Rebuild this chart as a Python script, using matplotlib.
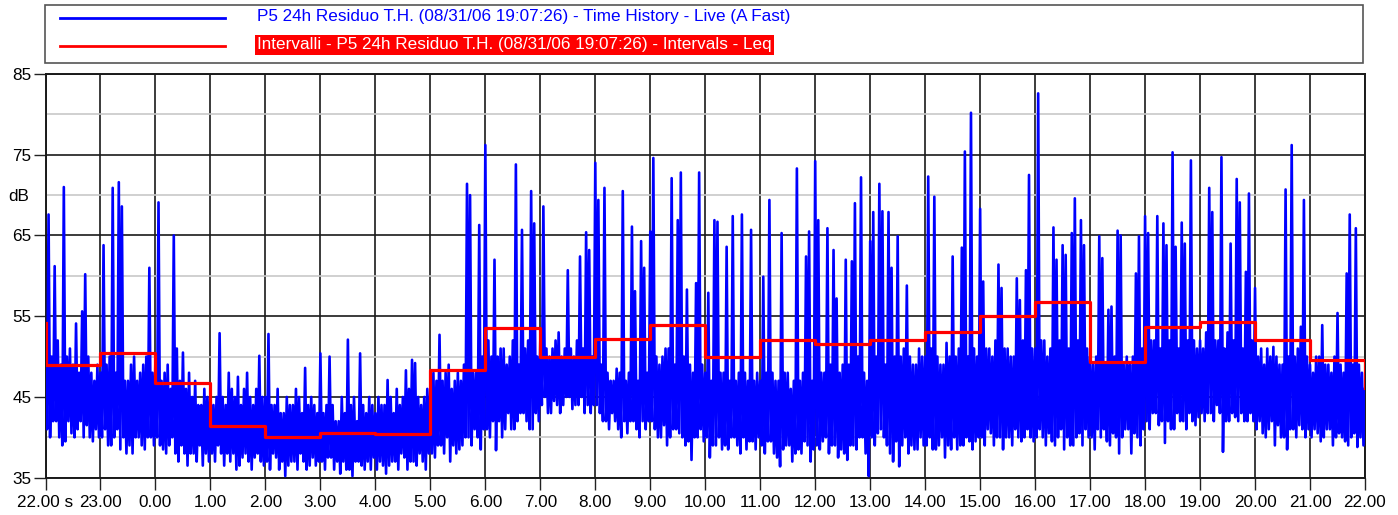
import matplotlib
matplotlib.use("Agg")
import matplotlib.pyplot as plt
from matplotlib.lines import Line2D
from matplotlib.patches import Rectangle
from matplotlib import font_manager

# fonts: narrow Arial-like if available
names = {f.name for f in font_manager.fontManager.ttflist}
if "Liberation Sans Narrow" in names:
    plt.rcParams['font.family'] = ['Liberation Sans Narrow', 'DejaVu Sans']
    fs = 13.4
else:
    plt.rcParams['font.family'] = ['Liberation Sans', 'DejaVu Sans']
    fs = 12.3

# x tick labels (hours 22.00 -> 22.00)
hour_labels = ["22.00 s", "23.00", "0.00", "1.00", "2.00", "3.00", "4.00", "5.00",
               "6.00", "7.00", "8.00", "9.00", "10.00", "11.00", "12.00", "13.00",
               "14.00", "15.00", "16.00", "17.00", "18.00", "19.00", "20.00",
               "21.00", "22.00"]

# hourly Leq intervals (dB)
interval_leq = [48.9, 50.4, 46.7, 41.4, 40.1, 40.5, 40.4, 48.3, 53.5, 49.9, 52.2, 53.9,
                50.0, 52.1, 51.6, 52.1, 53.1, 55.0, 56.7, 49.3, 53.7, 54.3, 52.1, 49.6]
interval_start_db = 54.2
interval_end_db = 46.1

# time history, one row per hour (A fast, dB)
live_db = [
    [53.5, 41, 67.6, 40, 50, 42, 61.2, 42, 52, 40, 49, 39, 71.0, 39.5, 50, 42, 51, 40.5,
     49, 40, 54.1, 41, 48, 42, 55.6, 40, 60.2, 41.5, 50, 40, 48, 39.5, 47, 41, 49, 40],
    [48, 40, 63.8, 41, 49, 39, 50, 39, 70.9, 40, 48, 41, 71.6, 38.5, 68.6, 40, 47, 38,
     47, 39, 49, 38, 50, 40, 47, 40, 48, 39, 49, 38.5, 50, 40, 61.0, 40, 48, 39],
    [50, 40, 69.1, 39, 47, 38.5, 48, 38, 49, 39, 46, 40, 65.0, 38, 51, 37, 47, 39,
     50.5, 38, 46, 36.5, 48, 38, 45, 38, 47, 37, 44, 39, 44, 36.5, 46, 38, 45, 37],
    [46, 38, 44, 37, 45, 39, 52.9, 38, 45, 36.5, 44, 38, 48, 37, 46, 38, 45, 36,
     47.5, 36.5, 44, 37.5, 46, 38, 48, 37, 45, 36, 44, 37.5, 46, 38, 50.1, 37, 45, 36.5],
    [45, 37, 52.8, 36, 44, 38, 44, 37.5, 46, 36, 43, 37, 43, 35.2, 45, 36.5, 44, 37,
     44, 37, 46, 36, 45, 38, 43, 37, 48.6, 36, 44, 36.5, 45, 37.5, 44, 36.5, 43, 37],
    [50.4, 37, 43, 36, 44, 37.5, 50.0, 37.5, 44, 36, 42, 37, 42, 35.5, 45, 37, 43, 36,
     52.1, 36, 44, 35.2, 45, 37, 42, 37, 50.4, 36.5, 44, 36, 43, 37, 45, 36, 44, 37.5],
    [43, 36, 45, 37, 44, 36.5, 44, 35.5, 47.1, 36.5, 45, 37, 43, 37, 46, 36, 44, 38,
     45, 37.5, 48.3, 36, 46, 37, 49.6, 37, 49.2, 36.5, 45, 38, 44, 37, 45, 36, 46, 38],
    [46, 38, 48, 37.5, 47, 39, 52.7, 39, 47, 38, 48, 40, 49, 37, 46, 39, 47, 38,
     48, 38.5, 47, 39, 49, 40, 71.4, 40, 70.0, 39, 48, 41, 48, 40, 66.3, 38.5, 50, 41],
    [76.2, 41, 52, 40, 50, 42, 62.0, 38.4, 50, 42, 51, 40, 51, 41, 49, 43, 50, 41,
     52, 41, 73.8, 42, 49, 43, 65.7, 43, 51, 42, 52, 41, 70.5, 41, 66.5, 43, 50, 42],
    [52, 44, 68.6, 45, 51, 43, 50, 43, 51, 44.5, 52, 44, 53, 43, 50, 44, 51, 45,
     60.7, 45, 51, 43.5, 50, 44, 52, 44, 62.4, 45, 51, 43, 65.4, 44, 63.2, 43, 50, 44],
    [74.0, 44, 69.4, 43, 49, 42, 70.9, 42, 48, 41, 47, 43, 47, 42, 48.5, 41, 48, 40,
     70.5, 42, 47, 40.5, 48, 42, 66.1, 42, 58.1, 41, 47, 40, 64.3, 42, 61.0, 41, 48, 42],
    [65.5, 42, 74.6, 41, 50, 40, 49, 40, 50, 41.5, 51, 39, 51, 40, 72.1, 41, 49, 41,
     66.9, 40.5, 72.8, 40, 50, 39, 58.3, 39.5, 49, 37.2, 48, 40, 59.1, 40, 72.8, 41, 49, 39.5],
    [48, 40, 57.9, 37.5, 47, 39, 66.9, 39, 66.7, 40, 48, 38.5, 48, 39, 63.6, 38.5, 47, 40,
     67.4, 40, 47, 39, 48, 38, 67.6, 40, 48, 38.5, 47, 39.5, 65.7, 39.5, 47, 38.5, 48, 40],
    [47, 39, 59.9, 38, 48, 39.5, 69.4, 39.5, 48, 38, 47, 37.5, 47, 36.4, 65.3, 38.5, 48, 39,
     48, 39, 46, 37, 47, 38, 73.3, 38.5, 47, 38, 48, 39.5, 62.4, 39, 65.5, 37, 47, 38.5],
    [74.2, 39, 66.9, 38.5, 48, 39.5, 48, 40, 65.9, 38, 49, 39, 63.2, 39, 57.2, 37.5, 48, 38.5,
     49, 38, 62.0, 37.2, 49, 39, 61.8, 39, 69.0, 38.5, 50, 40, 72.2, 40, 48, 38, 47, 35.2],
    [64.3, 40, 67.9, 39, 50, 40.5, 71.4, 41, 68.0, 40, 49, 39, 67.9, 38, 61.0, 37, 50, 39.5,
     64.9, 36.4, 50, 39, 51, 40, 58.8, 38, 50, 39, 49, 38.5, 49, 38.5, 51, 40, 50, 39],
    [50, 39, 72.3, 40, 51, 38.5, 69.8, 38.5, 50, 39, 49, 40, 49, 37.5, 51.7, 39, 50, 38.5,
     62.4, 40, 50, 38.5, 51, 39, 63.5, 39, 75.4, 40, 50, 39.5, 80.2, 38.5, 51, 39.5, 50, 40],
    [68.3, 40, 59.3, 39, 51, 41, 51, 40.5, 50, 39, 52, 40, 61.4, 40, 58.5, 38.5, 51, 40,
     51, 40, 50, 39, 50, 41, 59.7, 40, 57.0, 39.5, 52, 40, 60.7, 41, 72.5, 40, 51, 39.5],
    [51, 40, 82.6, 41, 52, 40, 52, 39, 50, 40.5, 51, 39.5, 66.0, 39, 62.0, 40, 52, 41,
     63.8, 38.5, 62.6, 40, 51, 39, 65.3, 39, 69.6, 40, 52, 40.5, 66.9, 39, 63.8, 41, 51, 40],
    [50, 40, 49, 38.5, 50, 41, 64.9, 40, 62.2, 41, 49, 39.5, 55.8, 39, 56.2, 40.5, 50, 40,
     65.6, 38, 65.0, 40, 49, 41, 50, 41, 49, 38, 50, 40.5, 60.3, 40, 64.9, 39, 51, 41],
    [67.4, 42, 65.3, 41, 52, 43, 52, 43, 67.4, 41.5, 51, 42, 66.5, 39.3, 63.8, 42, 52, 41,
     75.3, 41, 63.6, 43, 51, 42, 66.6, 42, 64.0, 41, 52, 43, 74.3, 42, 52, 41.5, 51, 42.5],
    [52, 43, 51, 42, 53, 43, 70.9, 43, 67.9, 42, 52, 44, 52, 43, 74.7, 38.2, 51, 42,
     53, 42, 64.0, 43, 52, 42.5, 72.0, 42, 69.1, 43, 51, 42, 60.5, 42, 70.2, 43, 52, 42],
    [58.5, 41, 50, 42, 51, 40.5, 49, 40, 51, 41, 50, 42, 51.2, 39, 50, 41.5, 49, 40,
     49, 40, 70.7, 38.5, 50, 41, 76.2, 41, 50, 40, 51, 41.5, 53.7, 41, 69.4, 40, 50, 41],
    [49, 40, 48, 41, 50, 40.5, 50, 39.5, 53.9, 40, 49, 41, 49, 41, 48, 39, 50, 40,
     55.4, 40.5, 49, 40, 48, 39.5, 60.3, 39, 67.6, 40, 49, 40.5, 65.9, 38.8, 49, 40, 48, 39],
]
live_end_db = 46

legend_live = "P5 24h Residuo T.H. (08/31/06 19:07:26) - Time History - Live (A Fast)"
legend_leq = "Intervalli - P5 24h Residuo T.H. (08/31/06 19:07:26) - Intervals - Leq"

W, H = 1398, 515
fig = plt.figure(figsize=(W / 100, H / 100), dpi=100)
ax = fig.add_axes([45.5 / W, 1 - 477.7 / H, (1365 - 45.5) / W, (477.7 - 74) / H])

# time history
t_live, v_live = [], []
for h, row in enumerate(live_db):
    n = len(row)
    for k, v in enumerate(row):
        t_live.append(h + k / n)
        v_live.append(v)
t_live.append(24)
v_live.append(live_end_db)
ax.plot(t_live, v_live, color='#0000ff', lw=1.9, zorder=3)

# interval Leq steps
xs, ys = [0], [interval_start_db]
for i, L in enumerate(interval_leq):
    xs += [i, i + 1]
    ys += [L, L]
xs.append(24)
ys.append(interval_end_db)
ax.plot(xs, ys, color='#ff0000', lw=2.3, zorder=4)

ax.set_xlim(0, 24)
ax.set_ylim(35, 85)
ax.set_xticks(range(25))
ax.set_xticklabels(hour_labels, fontsize=fs)
ax.set_yticks([35, 45, 55, 65, 75, 85])
ax.set_yticklabels(["35", "45", "55", "65", "75", "85"], fontsize=fs)
ax.set_yticks([40, 50, 60, 70, 80], minor=True)
ax.set_yticklabels(["", "", "", "dB", ""], minor=True, fontsize=fs)
ax.tick_params(axis='both', which='major', direction='out', length=8.5, width=1.0,
               color='#222222', pad=1.5)
ax.tick_params(axis='y', which='minor', length=0, pad=12)
ax.tick_params(axis='x', which='major', pad=4)
ax.set_axisbelow(True)
ax.grid(which='major', color='#1a1a1a', lw=1.2)
ax.grid(which='minor', axis='y', color='#c8c8c8', lw=1.2)
for s in ax.spines.values():
    s.set_color('#1a1a1a')
    s.set_linewidth(1.4)

# legend box
fig.add_artist(Rectangle((45 / W, 1 - 63 / H), (1363 - 45) / W, 58 / H,
                         transform=fig.transFigure, fill=False, ec='#555555', lw=1.2))
fig.add_artist(Line2D([60 / W, 225 / W], [1 - 18 / H, 1 - 18 / H], color='#0000ff', lw=2))
fig.add_artist(Line2D([60 / W, 225 / W], [1 - 46 / H, 1 - 46 / H], color='#ff0000', lw=2))
fig.text(257 / W, 1 - 17 / H, legend_live, color='#0000ff', fontsize=fs, va='center', ha='left')
fig.text(257 / W, 1 - 45 / H, legend_leq, color='white', fontsize=fs, va='center', ha='left',
         bbox=dict(boxstyle='square,pad=0.12', fc='#ff0000', ec='none'))

fig.savefig("out.png", dpi=100)
